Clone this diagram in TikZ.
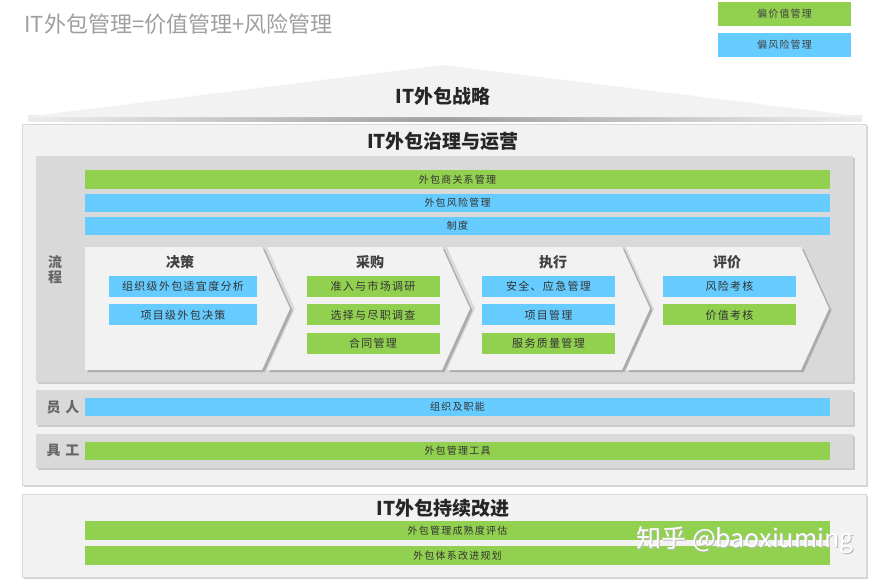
\documentclass[tikz,border=0pt]{standalone}
\usepackage{fontspec}
\setmainfont{Noto Sans CJK SC}
\newfontfamily\spaced[LetterSpace=12]{Noto Sans CJK SC}
\usetikzlibrary{positioning, shadows}

\definecolor{valgreen}{HTML}{92D050}
\definecolor{riskblue}{HTML}{66CCFF}
\definecolor{panel}{HTML}{F2F2F2}
\definecolor{lane}{HTML}{D9D9D9}

\tikzset{
  bar/.style={minimum width=745pt, minimum height=19pt, inner sep=0pt, text=black!80,
    font=\spaced\fontsize{10}{10}\selectfont},
  valbar/.style={bar, fill=valgreen},
  riskbar/.style={bar, fill=riskblue},
  item/.style={minimum width=133pt, minimum height=21pt, inner sep=0pt, text=black!80,
    font=\spaced\fontsize{11}{11}\selectfont},
  valitem/.style={item, fill=valgreen},
  riskitem/.style={item, fill=riskblue},
  legend/.style={minimum width=133pt, minimum height=24pt, inner sep=0pt, text=black!75,
    font=\spaced\fontsize{10}{10}\selectfont},
  shade box/.style={drop shadow={shadow xshift=2pt, shadow yshift=-2pt, opacity=0.35}},
  stage/.style={fill=panel, drop shadow={shadow xshift=2.5pt, shadow yshift=-2pt, opacity=0.5}},
  heading/.style={font=\fontsize{19}{19}\selectfont\bfseries, text=black!85},
  stagetitle/.style={font=\fontsize{14}{14}\selectfont\bfseries, text=black!75},
  sidelabel/.style={font=\spaced\fontsize{14}{14}\selectfont\bfseries, text=black!60},
}

\begin{document}
\begin{tikzpicture}[x=1pt, y=-1pt]
\useasboundingbox[fill=white] (0,0) rectangle (885,581);

% title and legend
\node (title) [anchor=west, text=gray!75, font=\fontsize{22}{22}\selectfont] at (21,24)
  {IT外包管理=价值管理+风险管理};
\node (legval) [legend, fill=valgreen] at (784.5,14) {偏价值管理};
\node (legrisk) [legend, fill=riskblue] at (784.5,45) {偏风险管理};

% strategy roof
\shade[left color=gray!15, right color=gray!15, middle color=gray!75] (28,115) rectangle (862,121);
\fill[panel] (25,117) -- (443,65) -- (865,117) -- cycle;
\node (strategy) [heading] at (443,96) {IT外包战略};

% governance and operation
\node (govern) [fill=panel, draw=gray!30, shade box, minimum width=844pt, minimum height=361pt,
  inner sep=0pt] at (444,304.5) {};
\node (govtitle) [heading] at (443,141) {IT外包治理与运营};

\node (process) [fill=lane, shade box, minimum width=817pt, minimum height=226pt, inner sep=0pt]
  at (444.5,269) {};
\node (proclabel) [sidelabel, align=center, font=\fontsize{14}{15}\selectfont\bfseries]
  at (55,270) {流\\程};

\node (vendor) [valbar] at (457.5,179.5) {外包商关系管理};
\node (risk) [riskbar, minimum height=18pt] at (457.5,203) {外包风险管理};
\node (policy) [riskbar, minimum height=18pt] at (457.5,226) {制度};

% value chain
\fill[stage] (85,247) -- (262,247) -- (290,308.5) -- (262,370) -- (85,370) -- cycle;
\foreach \s in {267,447,626}
  \fill[stage] (\s,247) -- ++(175,0) -- ++(28,61.5) -- ++(-28,61.5) -- ++(-175,0) -- ++(28,-61.5) -- cycle;

\node (decide) [stagetitle] at (180,262) {决策};
\node (dec1) [riskitem, minimum width=148pt] at (183,286.5) {组织级外包适宜度分析};
\node (dec2) [riskitem, minimum width=148pt, below=7pt of dec1] {项目级外包决策};

\node (procure) [stagetitle] at (370,262) {采购};
\node (pro1) [valitem] at (373,286.5) {准入与市场调研};
\node (pro2) [valitem, below=7pt of pro1] {选择与尽职调查};
\node (pro3) [valitem, below=7pt of pro2] {合同管理};

\node (execute) [stagetitle] at (553,262) {执行};
\node (exe1) [riskitem] at (548.5,286.5) {安全、应急管理};
\node (exe2) [riskitem, below=7pt of exe1] {项目管理};
\node (exe3) [valitem, below=7pt of exe2] {服务质量管理};

\node (assess) [stagetitle] at (727,262) {评价};
\node (eva1) [riskitem] at (729.5,286.5) {风险考核};
\node (eva2) [valitem, below=7pt of eva1] {价值考核};

% people and tools
\node (people) [fill=lane, shade box, minimum width=817pt, minimum height=35pt, inner sep=0pt]
  at (444.5,407.5) {};
\node (peoplelabel) [sidelabel] at (63,407.5) {员 人};
\node (org) [riskbar, minimum height=18pt] at (457.5,407) {组织及职能};

\node (tools) [fill=lane, shade box, minimum width=817pt, minimum height=34pt, inner sep=0pt]
  at (444.5,451) {};
\node (toolslabel) [sidelabel] at (63,451) {具 工};
\node (toolkit) [valbar, minimum height=18pt] at (457.5,451) {外包管理工具};

% continuous improvement
\node (improve) [fill=panel, draw=gray!30, shade box, minimum width=844pt, minimum height=83pt,
  inner sep=0pt] at (444,535.5) {};
\node (imptitle) [heading] at (443,508) {IT外包持续改进};
\node (maturity) [valbar] at (457.5,530.5) {外包管理成熟度评估};
\node (plan) [valbar] at (457.5,555.5) {外包体系改进规划};

% watermark
\node (markshade) [text=gray!55, font=\fontsize{25}{25}\selectfont] at (746,541) {知乎 @baoxiuming};
\node (mark) [text=white, font=\fontsize{25}{25}\selectfont] at (745,540) {知乎 @baoxiuming};
\end{tikzpicture}
\end{document}
